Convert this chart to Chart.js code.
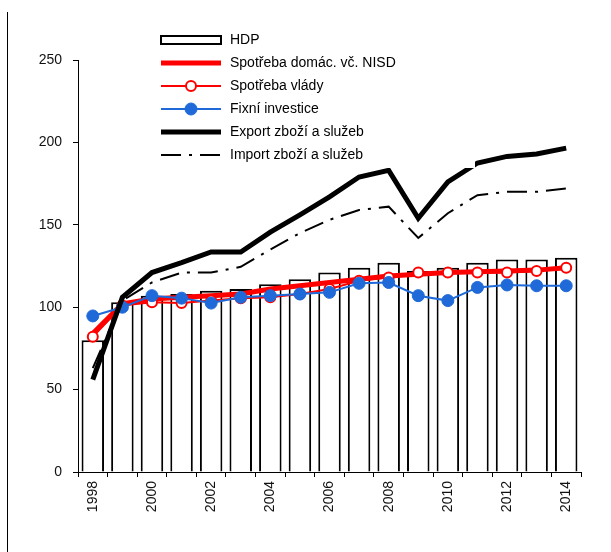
<!DOCTYPE html>
<html>
<head>
<meta charset="utf-8">
<script src="https://cdn.jsdelivr.net/npm/chart.js@4/dist/chart.umd.min.js"></script>
<style>
  body { margin: 0; background: #fff; }
  #wrap { position: relative; width: 611px; height: 552px; }
  #edge { position: absolute; left: 7px; top: 12px; width: 1px; height: 540px; background: #000; }
</style>
</head>
<body>
<div id="wrap">
  <canvas id="hdpChart" width="611" height="552"></canvas>
  <div id="edge"></div>
</div>
<script>
const years = ['1998', '1999', '2000', '2001', '2002', '2003', '2004', '2005', '2006',
  '2007', '2008', '2009', '2010', '2011', '2012', '2013', '2014'];

const hdp = [80, 103, 107, 108, 110, 111, 114, 117, 121, 124, 127, 122, 124, 127, 129, 129, 130];
const spotrebaDomac = [84, 102, 105, 106, 107, 108, 111, 113, 115, 117, 119, 120, 121, 121.5, 122, 122.5, 124];
const spotrebaVlady = [82, 101, 103, 102.5, 104, 105.5, 106, 108, 111, 116, 118, 121, 121, 121, 121, 122, 124];
const fixniInvestice = [94.7, 100, 107, 105.5, 102.5, 106, 107, 108, 109, 114.5, 115, 107, 104, 112, 113.5, 113, 113];
const exportZbozi = [56, 106, 121, 127, 133.5, 133.5, 145.5, 156, 167, 179, 183, 154, 176, 187.5, 191.5, 193, 196.5];
const importZbozi = [63, 104, 115, 121, 121, 124.5, 135, 145, 153, 159, 161, 142, 157, 168, 170, 170, 172];

const yTicks = [0, 50, 100, 150, 200, 250];

const fontFam = '"Liberation Sans", Arial, sans-serif';
const blue = '#1f6ad8';

// legenda kreslená ručně (symboly jako v Excelu)
const legendPlugin = {
  id: 'excelLegend',
  afterDatasetsDraw(chart) {
    const ctx = chart.ctx;
    ctx.save();
    ctx.fillStyle = '#fff';
    ctx.fillRect(155, 27, 320, 141);
    const x0 = 161, x1 = 221, tx = 230;
    const rows = [40, 63, 86, 109, 132, 155];
    ctx.font = '14px ' + fontFam;
    ctx.textBaseline = 'middle';
    chart.data.datasets.forEach((ds, i) => {
      const y = rows[i];
      if (ds.type === 'bar') {
        ctx.strokeStyle = '#000';
        ctx.lineWidth = 2;
        ctx.fillStyle = '#fff';
        ctx.fillRect(x0, y - 4, x1 - x0, 8);
        ctx.strokeRect(x0, y - 4, x1 - x0, 8);
      } else {
        ctx.strokeStyle = ds.borderColor;
        ctx.lineWidth = ds.borderWidth;
        ctx.setLineDash(ds.borderDash || []);
        ctx.beginPath();
        ctx.moveTo(x0, y);
        ctx.lineTo(x1, y);
        ctx.stroke();
        ctx.setLineDash([]);
        if (ds.pointRadius > 0) {
          ctx.beginPath();
          ctx.arc((x0 + x1) / 2, y, ds.pointRadius, 0, Math.PI * 2);
          ctx.fillStyle = ds.pointBackgroundColor;
          ctx.fill();
          ctx.lineWidth = ds.pointBorderWidth;
          ctx.strokeStyle = ds.pointBorderColor;
          ctx.stroke();
        }
      }
      ctx.fillStyle = '#000';
      ctx.fillText(ds.label, tx, y);
    });
    ctx.restore();
  }
};

const datasets = [
  {
    type: 'bar',
    label: 'HDP',
    data: hdp,
    backgroundColor: '#fff',
    borderColor: '#000',
    borderWidth: 2,
    categoryPercentage: 1,
    barPercentage: 0.76,
    order: 10
  },
  {
    type: 'line',
    label: 'Spotřeba domác. vč. NISD',
    data: spotrebaDomac,
    borderColor: '#ff0000',
    borderWidth: 5,
    pointRadius: 0,
    order: 4
  },
  {
    type: 'line',
    label: 'Spotřeba vlády',
    data: spotrebaVlady,
    borderColor: '#ff0000',
    borderWidth: 2,
    pointRadius: 5,
    pointBackgroundColor: '#fff',
    pointBorderColor: '#ff0000',
    pointBorderWidth: 2,
    order: 3
  },
  {
    type: 'line',
    label: 'Fixní investice',
    data: fixniInvestice,
    borderColor: blue,
    borderWidth: 2,
    pointRadius: 6,
    pointBackgroundColor: blue,
    pointBorderColor: blue,
    pointBorderWidth: 1,
    order: 2
  },
  {
    type: 'line',
    label: 'Export zboží a služeb',
    data: exportZbozi,
    borderColor: '#000',
    borderWidth: 5,
    pointRadius: 0,
    order: 1
  },
  {
    type: 'line',
    label: 'Import zboží a služeb',
    data: importZbozi,
    borderColor: '#000',
    borderWidth: 2,
    borderDash: [20, 8, 3, 8],
    pointRadius: 0,
    order: 1
  }
];

new Chart(document.getElementById('hdpChart'), {
  type: 'bar',
  data: { labels: years, datasets: datasets },
  plugins: [legendPlugin],
  options: {
    responsive: false,
    animation: false,
    layout: { padding: { left: 0, top: 60, right: 30, bottom: 0 } },
    plugins: {
      legend: { display: false },
      tooltip: { enabled: false }
    },
    scales: {
      x: {
        offset: true,
        grid: {
          offset: true,
          drawOnChartArea: false,
          drawTicks: true,
          tickLength: 5,
          color: '#000'
        },
        border: { display: true, color: '#000', width: 1 },
        ticks: {
          autoSkip: false,
          maxRotation: 90,
          minRotation: 90,
          padding: 4,
          color: '#111',
          font: { family: fontFam, size: 14 },
          callback: (val, i) => (i % 2 === 0 ? years[i] : '')
        },
        afterFit: s => { s.height = 80; }
      },
      y: {
        min: 0,
        max: 250,
        afterBuildTicks: s => { s.ticks = yTicks.map(v => ({ value: v })); },
        grid: {
          drawOnChartArea: false,
          drawTicks: true,
          tickLength: 5,
          color: '#000'
        },
        border: { display: true, color: '#000', width: 1 },
        ticks: {
          padding: 11,
          color: '#111',
          font: { family: fontFam, size: 14 }
        },
        afterFit: s => { s.width = 78; }
      }
    }
  }
});
</script>
</body>
</html>
